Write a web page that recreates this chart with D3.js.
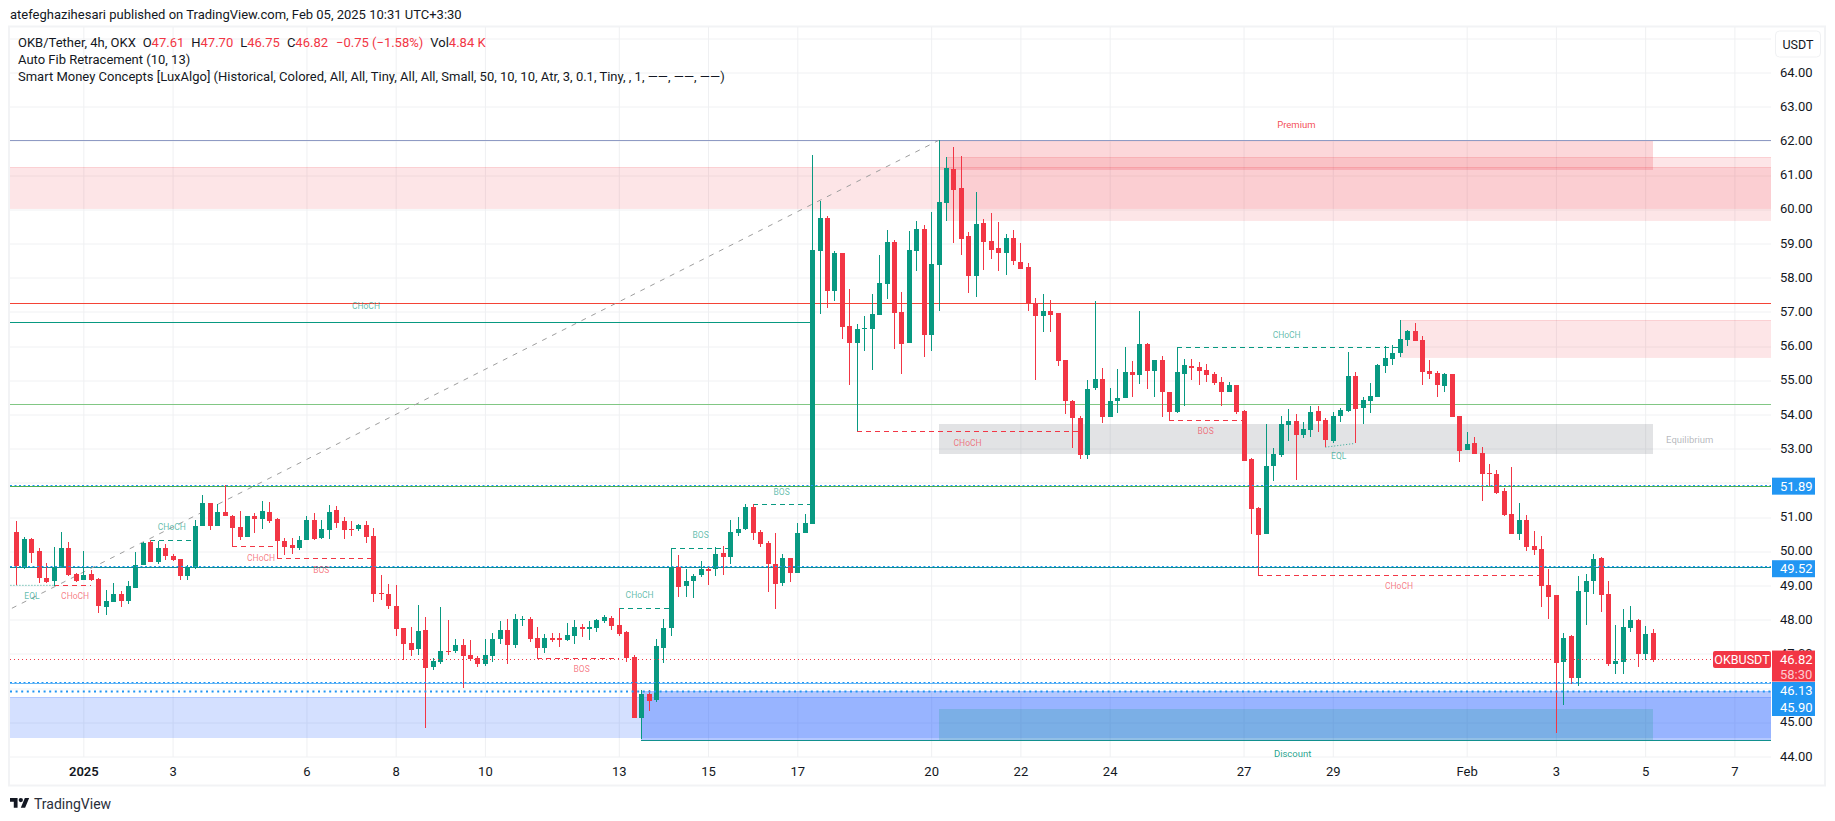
<!DOCTYPE html>
<html>
<head>
<meta charset="utf-8">
<script src="https://cdn.jsdelivr.net/npm/d3@7"></script>
<style>
  html, body { margin: 0; padding: 0; background: #fff; overflow: hidden; }
  text { font-family: Roboto, "Open Sans", sans-serif; }
  .axis path.domain { display: none; }
</style>
</head>
<body>
<div id="chart"></div>
<script>
// OKB/Tether 4h candles (one bar every 4 hours)
const firstBar = '2024-12-30T12:00:00Z';

const opens = [
  50.55,49.50,50.35,49.99,49.20,49.12,49.53,50.08,49.32,49.15,
  49.32,49.18,48.36,48.50,48.74,48.53,48.91,49.58,50.26,49.67,
  50.08,49.85,49.76,49.26,49.50,50.73,51.40,50.73,51.13,51.02,
  50.70,50.40,51.02,50.93,51.13,50.93,50.29,50.17,50.08,50.32,
  50.90,50.37,50.61,51.19,50.87,50.64,50.64,50.75,50.43,48.77,
  48.74,48.39,47.74,47.30,47.13,47.68,46.60,46.75,47.07,47.07,
  47.25,46.95,46.87,46.69,46.92,47.42,47.68,47.25,47.98,48.01,
  47.45,47.16,47.45,47.45,47.39,47.51,47.77,47.71,47.74,47.95,
  48.04,47.83,47.63,46.89,45.11,45.81,45.64,47.16,47.74,49.52,
  48.97,49.12,49.29,49.47,49.47,49.94,49.82,50.52,50.64,51.28,
  50.55,50.23,49.61,49.06,49.79,49.35,50.52,50.78,58.77,59.73,
  57.60,58.71,56.57,56.08,56.49,56.49,56.89,57.80,59.03,56.98,
  56.08,58.77,59.41,56.31,58.36,60.17,61.16,60.61,59.20,58.03,
  59.59,59.06,58.85,58.71,59.15,58.44,58.30,57.24,56.87,57.01,
  56.95,55.58,54.38,53.88,52.80,54.76,55.02,53.91,54.38,54.47,
  55.23,55.14,56.05,55.26,55.58,54.64,54.06,55.17,55.40,55.37,
  55.29,55.17,54.94,54.64,54.85,54.09,52.68,51.25,50.49,52.48,
  52.80,53.68,53.80,53.39,53.53,54.09,53.83,53.21,53.94,54.09,
  55.11,54.18,54.38,54.50,55.40,55.61,55.78,56.16,56.43,56.16,
  55.26,55.20,54.82,55.17,53.94,52.95,53.15,52.86,52.28,52.25,
  51.75,51.08,50.49,50.90,50.14,50.05,49.00,48.71,46.75,47.51,
  46.28,48.80,49.12,49.79,48.74,46.69,46.75,47.74,47.98,46.98,47.61
];
const highs = [
  50.87,50.40,50.37,50.07,49.64,50.11,50.55,50.26,49.35,49.99,
  49.44,49.20,48.85,49.06,48.82,49.12,49.97,50.26,50.32,50.29,
  50.20,49.91,49.76,49.58,50.90,51.63,51.40,51.37,51.92,51.05,
  51.16,51.02,51.10,51.46,51.43,50.96,50.37,50.37,50.43,51.02,
  51.10,50.90,51.34,51.31,50.99,50.87,50.78,50.87,50.67,49.29,
  49.03,49.00,47.74,47.77,48.42,48.06,46.87,48.36,47.98,47.42,
  47.42,47.39,46.92,47.42,47.60,47.95,48.01,48.15,48.09,48.06,
  47.77,47.57,47.60,47.60,47.89,47.98,47.86,47.95,48.01,48.12,
  48.09,48.33,47.65,46.95,45.93,45.93,47.42,48.01,50.08,49.88,
  49.47,49.32,49.70,49.55,50.11,50.14,50.90,50.99,51.37,51.37,
  50.61,50.29,50.52,49.91,49.79,50.81,51.08,61.57,60.23,59.79,
  58.77,58.71,57.66,56.63,56.87,57.51,58.65,59.38,59.09,57.57,
  59.35,59.64,59.53,59.91,62.00,61.51,61.81,61.54,59.32,60.49,
  59.70,59.88,59.61,59.26,59.38,59.00,58.41,57.39,57.51,57.33,
  56.95,55.58,54.41,53.94,54.99,57.30,55.35,54.76,55.32,55.96,
  55.55,57.01,56.08,55.58,55.70,54.64,55.96,55.61,55.61,55.52,
  55.46,55.23,55.08,54.94,54.85,54.12,52.71,51.28,53.71,53.01,
  53.94,54.15,54.00,53.77,54.23,54.23,53.88,54.06,54.18,55.81,
  55.23,54.50,54.91,55.46,55.99,56.02,56.75,56.46,56.66,56.28,
  55.58,55.26,55.20,55.17,53.94,53.47,53.33,53.04,52.54,52.36,
  51.84,52.45,51.40,51.05,50.58,50.43,49.47,48.71,47.60,47.54,
  49.26,49.32,49.91,49.82,49.12,47.83,48.30,48.39,48.01,47.80,47.70
];
const lows = [
  49.00,49.47,49.64,49.06,49.06,48.97,49.50,49.26,49.09,49.15,
  49.12,48.18,48.12,48.50,48.36,48.44,48.91,49.58,49.67,49.61,
  49.73,49.70,49.15,49.15,49.47,50.73,50.61,50.73,51.02,50.14,
  50.32,50.40,50.52,50.64,50.81,49.78,49.88,49.91,50.02,50.32,
  50.32,50.35,50.35,50.67,50.35,50.43,50.58,50.23,48.50,48.56,
  48.30,47.51,46.81,46.92,46.95,44.82,46.51,46.69,46.95,47.01,
  45.99,46.78,46.60,46.63,46.75,47.27,46.69,47.16,47.80,47.33,
  46.87,47.01,47.33,47.19,47.36,47.27,47.48,47.39,47.63,47.89,
  47.68,47.51,46.75,45.11,44.50,45.32,45.58,46.72,47.51,48.65,
  48.65,48.62,49.23,49.00,49.26,49.29,49.61,50.43,50.61,50.32,
  50.11,48.80,48.30,48.97,49.09,49.35,50.52,50.78,56.92,57.10,
  57.30,56.19,54.85,53.50,55.84,55.29,56.89,57.36,55.90,55.17,
  56.08,58.18,55.67,55.84,57.01,59.64,59.00,58.65,57.54,57.42,
  58.21,58.53,58.18,58.06,58.36,58.24,57.01,54.99,56.40,56.40,
  55.40,54.00,53.01,52.68,52.68,54.70,53.74,53.91,54.03,54.47,
  54.50,54.88,54.73,54.50,53.91,53.83,54.03,54.23,54.99,54.85,
  54.94,54.85,54.23,54.64,54.00,52.63,50.49,49.26,50.49,52.04,
  52.74,53.21,52.07,53.30,53.33,53.47,53.04,53.15,53.77,54.06,
  53.15,53.71,54.03,54.50,55.20,55.43,55.67,55.99,56.13,54.85,
  55.02,54.50,54.64,53.91,52.60,52.95,52.83,51.46,51.90,51.66,
  51.02,50.49,50.32,49.99,49.88,48.36,48.01,44.67,45.49,46.11,
  46.05,47.83,48.74,48.21,46.63,46.40,46.40,47.63,46.60,46.81,46.75
];
const closes = [
  49.56,50.35,49.94,49.20,49.09,49.53,50.08,49.29,49.12,49.29,
  49.15,48.39,48.53,48.74,48.53,48.97,49.58,50.23,49.67,50.08,
  49.85,49.73,49.26,49.53,50.73,51.40,50.73,51.13,51.02,50.67,
  50.40,51.02,50.93,51.16,50.87,50.29,50.11,50.08,50.32,50.90,
  50.35,50.64,51.13,50.81,50.61,50.61,50.75,50.40,48.74,48.74,
  48.39,47.71,47.27,47.10,47.66,46.57,46.78,47.07,47.04,47.25,
  46.92,46.84,46.69,46.95,47.42,47.68,47.25,48.01,48.01,47.42,
  47.16,47.45,47.39,47.39,47.54,47.77,47.71,47.77,47.98,48.06,
  47.80,47.57,46.87,45.11,45.81,45.61,47.22,47.74,49.52,48.94,
  49.12,49.26,49.47,49.41,49.91,49.82,50.55,50.64,51.28,50.52,
  50.20,49.61,49.03,49.79,49.35,50.52,50.81,58.80,59.73,57.60,
  58.71,56.54,56.08,56.49,56.51,56.92,57.83,59.03,56.95,56.05,
  58.80,59.41,56.31,58.39,60.20,61.19,60.55,59.12,58.03,59.56,
  59.03,58.80,58.71,59.15,58.47,58.24,57.24,56.87,57.01,56.89,
  55.55,54.38,53.88,52.80,54.73,55.02,53.91,54.38,54.47,55.23,
  55.14,56.05,55.26,55.58,54.64,54.06,55.23,55.43,55.35,55.26,
  55.14,54.91,54.64,54.85,54.06,52.63,51.22,50.46,52.48,52.83,
  53.71,53.80,53.39,53.56,54.06,53.80,53.24,53.94,54.12,55.11,
  54.15,54.41,54.53,55.43,55.64,55.78,56.19,56.43,56.13,55.23,
  55.17,54.85,55.17,53.91,52.92,53.12,52.83,52.25,52.25,51.69,
  51.05,50.49,50.90,50.11,50.02,48.97,48.65,46.72,47.45,46.28,
  48.82,49.12,49.76,48.71,46.69,46.78,47.77,47.98,46.98,47.57,46.82
];

// Axis ticks
const priceTicks = [44,45,46,47,48,49,50,51,52,53,54,55,56,57,58,59,60,61,62,63,64,65];
const priceLabels = [44,45,47,48,49,50,51,53,54,55,56,57,58,59,60,61,62,63,64];
const timeTicks = ['2025-01-01','2025-01-03','2025-01-06','2025-01-08','2025-01-10','2025-01-13','2025-01-15',
  '2025-01-17','2025-01-20','2025-01-22','2025-01-24','2025-01-27','2025-01-29','2025-02-01','2025-02-03',
  '2025-02-05','2025-02-07'];
const timeLabels = ['2025','3','6','8','10','13','15','17','20','22','24','27','29','Feb','3','5','7'];

// Smart money / fib annotations: bar indexes and prices only
const fibLevels = [62.00, 57.24, 54.28, 51.89, 49.52, 46.13];
const dottedLevels = [51.89, 49.52, 46.13, 45.90];
const lastPrice = 46.82;
const zones = [
  // [startBar, endBar (null = right edge), top, bottom]
  [null, null, 61.22, 60.01],
  [125, null, 61.51, 59.66],
  [124, 220, 62.00, 61.14],
  [186, null, 56.75, 55.68],
  [124, 220, 53.71, 52.83],
  [null, null, 45.72, 44.55],
  [84, null, 45.90, 44.48],
  [124, 220, 45.37, 44.48]
];
const structureGreen = [[18,24,50.31],[81,88,48.32],[88,96,50.07],[99,107,51.37],[156,186,55.95]];
const structureRed = [[5,10,48.99],[29,35,50.13],[35,48,49.78],[70,81,46.88],[113,143,53.50],[155,165,53.81],[167,205,49.28]];
const eqlLines = [[-0.8,5,48.99,48.99],[176,180,53.03,53.14]];
const trendLine = [-0.6, 124, 48.32, 62.00];
const greenMarks = [
  ['CHoCH',47,57.16],['CHoCH',20.9,50.70],['EQL',2.1,48.68],['CHoCH',83.8,48.71],['BOS',92,50.46],
  ['BOS',102.9,51.72],['CHoCH',170.8,56.31],['EQL',177.8,52.78]
];
const redMarks = [
  ['CHoCH',7.9,48.68],['CHoCH',32.9,49.79],['BOS',41,49.44],['BOS',76,46.54],['CHoCH',127.9,53.15],
  ['BOS',159.9,53.50],['CHoCH',185.9,48.97]
];

const W = 1835, H = 821;
const pane = { left: 10, right: 1771, top: 27, bottom: 757 };
const UP = '#089981', DOWN = '#f23645', BLUE = '#2196f3', INK = '#131722';

const barTime = i => new Date(+new Date(firstBar) + i * 4 * 3600 * 1000);

const x = d3.scaleUtc()
  .domain([new Date('2024-12-30T08:34:00Z'), new Date('2025-02-07T19:41:00Z')])
  .range([pane.left, pane.right]);
const y = d3.scaleLinear().domain([44, 65]).range([756, 37.8]);
const bx = i => x(barTime(i));
const px = v => Math.round(v);

const svg = d3.select('#chart').append('svg')
  .attr('width', W).attr('height', H)
  .style('display', 'block');

svg.append('defs').append('clipPath').attr('id', 'pane')
  .append('rect')
  .attr('x', pane.left).attr('y', pane.top)
  .attr('width', pane.right - pane.left).attr('height', pane.bottom - pane.top);

// Frame around chart and axes
svg.append('rect')
  .attr('x', 9).attr('y', 26.5).attr('width', 1816).attr('height', 759)
  .attr('fill', 'none').attr('stroke', '#f2f3f5').attr('stroke-width', 2);

// Grid, made from axes with long ticks
const hGrid = svg.append('g')
  .attr('transform', `translate(${pane.left},0)`)
  .call(d3.axisRight(y).tickValues(priceTicks).tickSize(pane.right - pane.left).tickFormat(''));
hGrid.select('.domain').remove();
hGrid.selectAll('line').attr('stroke', '#f0f1f3').attr('transform', d => `translate(0,${px(y(d)) + 0.5 - y(d)})`);

const vGrid = svg.append('g')
  .attr('transform', `translate(0,${pane.bottom})`)
  .call(d3.axisTop(x).tickValues(timeTicks.map(d => new Date(d + 'T00:00:00Z')))
    .tickSize(pane.bottom - pane.top).tickFormat(''));
vGrid.select('.domain').remove();
vGrid.selectAll('line').attr('stroke', '#eff0f2');

const marks = svg.append('g').attr('clip-path', 'url(#pane)');

// Zones
const zoneFill = ['#f23645', '#f23645', '#f23645', '#f23645', '#787b86', '#2962ff', '#2962ff', '#089981'];
const zoneAlpha = [0.13, 0.13, 0.2, 0.13, 0.21, 0.2, 0.35, 0.2];
const zoneBorder = [0.12, 0.12, 0, 0.12, 0, 0.2, 0.05, 0];
zones.forEach((z, k) => {
  const x0 = z[0] === null ? pane.left : px(bx(z[0]));
  const x1 = z[1] === null ? pane.right : px(bx(z[1]));
  const y0 = px(y(z[2])), y1 = px(y(z[3]));
  marks.append('rect')
    .attr('x', x0).attr('y', y0).attr('width', x1 - x0).attr('height', y1 - y0)
    .attr('fill', zoneFill[k]).attr('fill-opacity', zoneAlpha[k]);
  if (zoneBorder[k] > 0) {
    [y0, y1].forEach(v => marks.append('line')
      .attr('x1', x0).attr('x2', x1).attr('y1', v + 0.5).attr('y2', v + 0.5)
      .attr('stroke', zoneFill[k]).attr('stroke-opacity', zoneBorder[k]));
  }
});

// Fib levels
const fibColor = ['#8f9bc4', '#f44336', '#81c784', '#4caf50', '#0f8f96', '#64b5f6'];
fibLevels.forEach((p, k) => {
  const v = px(y(p)) + 0.5;
  marks.append('line')
    .attr('x1', pane.left).attr('x2', pane.right).attr('y1', v).attr('y2', v)
    .attr('stroke', fibColor[k]);
});

// Green line that stops at the breakout candle
marks.append('line')
  .attr('x1', pane.left).attr('x2', px(bx(107))).attr('y1', px(y(56.68)) + 0.5).attr('y2', px(y(56.68)) + 0.5)
  .attr('stroke', UP);

// Bottom edge of the big blue block
marks.append('line')
  .attr('x1', px(bx(84))).attr('x2', pane.right).attr('y1', px(y(44.48)) + 0.5).attr('y2', px(y(44.48)) + 0.5)
  .attr('stroke', '#12908f');

// Fib trend line
marks.append('line')
  .attr('x1', bx(trendLine[0])).attr('x2', bx(trendLine[1]))
  .attr('y1', y(trendLine[2])).attr('y2', y(trendLine[3]))
  .attr('stroke', '#9e9e9e').attr('stroke-dasharray', '5 6');

// Structure breaks
function drawBreaks(list, color) {
  list.forEach(s => {
    const v = px(y(s[2])) + 0.5;
    marks.append('line')
      .attr('x1', px(bx(s[0]))).attr('x2', px(bx(s[1]))).attr('y1', v).attr('y2', v)
      .attr('stroke', color).attr('stroke-dasharray', '5 4');
  });
}
drawBreaks(structureGreen, UP);
drawBreaks(structureRed, DOWN);

eqlLines.forEach(s => {
  marks.append('line')
    .attr('x1', bx(s[0])).attr('x2', bx(s[1])).attr('y1', y(s[2])).attr('y2', y(s[3]))
    .attr('stroke', UP).attr('stroke-opacity', 0.8).attr('stroke-dasharray', '1 2');
});

// Candles
const bars = opens.map((o, i) => ({ i, o, h: highs[i], l: lows[i], c: closes[i] }));
const candle = marks.append('g').attr('shape-rendering', 'crispEdges')
  .selectAll('g').data(bars).join('g')
  .attr('fill', d => d.c >= d.o ? UP : DOWN);
candle.append('rect')
  .attr('x', d => px(bx(d.i)))
  .attr('width', 1)
  .attr('y', d => px(y(d.h)))
  .attr('height', d => Math.max(1, px(y(d.l)) - px(y(d.h))));
candle.append('rect')
  .attr('x', d => px(bx(d.i)) - 2)
  .attr('width', 5)
  .attr('y', d => px(y(Math.max(d.o, d.c))))
  .attr('height', d => Math.max(1, px(y(Math.min(d.o, d.c))) - px(y(Math.max(d.o, d.c)))));

// Blue dotted lines and last price line sit over the candles
dottedLevels.forEach((p, k) => {
  const v = px(y(p)) + (k === 3 ? 0.5 : -0.5);
  marks.append('line')
    .attr('x1', pane.left).attr('x2', pane.right).attr('y1', v).attr('y2', v)
    .attr('stroke', BLUE).attr('stroke-width', k === 3 ? 2 : 1)
    .attr('stroke-dasharray', k === 3 ? '2 3.6' : '2 2.5');
});
marks.append('line')
  .attr('x1', pane.left).attr('x2', pane.right)
  .attr('y1', px(y(lastPrice)) - 0.5).attr('y2', px(y(lastPrice)) - 0.5)
  .attr('stroke', DOWN).attr('stroke-dasharray', '1 3');

// Small structure labels
function drawMarks(list, color) {
  list.forEach(m => {
    marks.append('text')
      .attr('x', bx(m[1])).attr('y', y(m[2]))
      .attr('text-anchor', 'middle').attr('dominant-baseline', 'central')
      .attr('font-size', 8.5).attr('fill', color).attr('fill-opacity', 0.65)
      .text(m[0]);
  });
}
drawMarks(greenMarks, UP);
drawMarks(redMarks, DOWN);

[['Premium', 172.1, 62.46, DOWN, 0.9], ['Discount', 171.6, 44.06, UP, 0.9], ['Equilibrium', 225, 53.24, '#787b86', 0.55]]
  .forEach(m => {
    marks.append('text')
      .attr('x', bx(m[1])).attr('y', y(m[2]))
      .attr('text-anchor', 'middle').attr('dominant-baseline', 'central')
      .attr('font-size', 9.5).attr('fill', m[3]).attr('fill-opacity', m[4])
      .text(m[0]);
  });

// Price axis
const yAxis = svg.append('g').attr('class', 'axis')
  .attr('transform', `translate(${pane.right},0)`)
  .call(d3.axisRight(y).tickValues(priceLabels).tickSize(0).tickPadding(9).tickFormat(d3.format('.2f')));
yAxis.selectAll('text').attr('font-size', 13).attr('fill', INK);

// Time axis
const xAxis = svg.append('g').attr('class', 'axis')
  .attr('transform', `translate(0,${pane.bottom})`)
  .call(d3.axisBottom(x).tickValues(timeTicks.map(d => new Date(d + 'T00:00:00Z')))
    .tickSize(0).tickPadding(10).tickFormat((d, i) => timeLabels[i]));
xAxis.selectAll('text').attr('font-size', 13).attr('fill', INK)
  .attr('font-weight', (d, i) => i === 0 ? 600 : 400);

// Price tags on the right axis
function tag(top, height, text, fill) {
  svg.append('rect').attr('x', 1772).attr('y', top).attr('width', 43).attr('height', height).attr('fill', fill);
  svg.append('text').attr('x', 1780).attr('y', top + 8.7)
    .attr('dominant-baseline', 'central').attr('font-size', 13).attr('fill', '#fff').text(text);
}
tag(y(51.89) - 8.5, 17, '51.89', BLUE);
tag(y(49.52) - 7, 17, '49.52', BLUE);
tag(y(46.82) - 9, 31, '46.82', DOWN);
svg.append('text').attr('x', 1780).attr('y', y(46.82) + 14.5).attr('dominant-baseline', 'central')
  .attr('font-size', 13).attr('fill', '#fff').attr('fill-opacity', 0.75).text('58:30');
tag(682, 17, '46.13', BLUE);
tag(699, 17, '45.90', BLUE);
svg.append('rect').attr('x', 1713).attr('y', 651).attr('width', 58).attr('height', 17).attr('rx', 2).attr('fill', DOWN);
svg.append('text').attr('x', 1742).attr('y', 659.7).attr('text-anchor', 'middle').attr('dominant-baseline', 'central')
  .attr('font-size', 12.5).attr('fill', '#fff').text('OKBUSDT');

// Currency button
svg.append('rect').attr('x', 1775.5).attr('y', 31).attr('width', 45).attr('height', 26).attr('rx', 4)
  .attr('fill', '#fff').attr('stroke', '#f0f1f3');
svg.append('text').attr('x', 1798).attr('y', 44.5).attr('text-anchor', 'middle').attr('dominant-baseline', 'central')
  .attr('font-size', 12.5).attr('fill', INK).text('USDT');

// Header and legend
svg.append('text').attr('x', 10).attr('y', 14.5).attr('dominant-baseline', 'central')
  .attr('font-size', 13).attr('fill', INK)
  .text('atefeghazihesari published on TradingView.com, Feb 05, 2025 10:31 UTC+3:30');

const ohlc = [['O', '47.61'], ['H', '47.70'], ['L', '46.75'], ['C', '46.82']];
const legend = svg.append('text').attr('x', 18).attr('y', 41.5).attr('dominant-baseline', 'central')
  .attr('font-size', 13).attr('fill', INK);
legend.append('tspan').text('OKB/Tether, 4h, OKX');
ohlc.forEach((d, i) => {
  legend.append('tspan').attr('dx', 7).text(d[0]);
  legend.append('tspan').attr('fill', DOWN).text(d[1]);
});
legend.append('tspan').attr('dx', 8).attr('fill', DOWN).text('\u22120.75 (\u22121.58%)');
legend.append('tspan').attr('dx', 7).text('Vol');
legend.append('tspan').attr('fill', DOWN).text('4.84 K');

svg.append('text').attr('x', 18).attr('y', 59).attr('dominant-baseline', 'central')
  .attr('font-size', 13).attr('fill', INK).text('Auto Fib Retracement (10, 13)');
svg.append('text').attr('x', 18).attr('y', 76.5).attr('dominant-baseline', 'central')
  .attr('font-size', 13).attr('fill', INK)
  .text('Smart Money Concepts [LuxAlgo] (Historical, Colored, All, All, Tiny, All, All, Small, 50, 10, 10, Atr, 3, 0.1, Tiny, , 1, \u2014\u2014, \u2014\u2014, \u2014\u2014)');

// TradingView mark
const logo = svg.append('g').attr('transform', 'translate(10,795.8) scale(0.54)').attr('fill', '#131722');
logo.append('path').attr('d', 'M14 22H7V11H0V4h14v18zM28 22h-8l7.5-18h8L28 22z');
logo.append('circle').attr('cx', 20).attr('cy', 8).attr('r', 4);
svg.append('text').attr('x', 34).attr('y', 803.5).attr('dominant-baseline', 'central')
  .attr('font-size', 14).attr('fill', '#2a2e39').text('TradingView');
</script>
</body>
</html>
